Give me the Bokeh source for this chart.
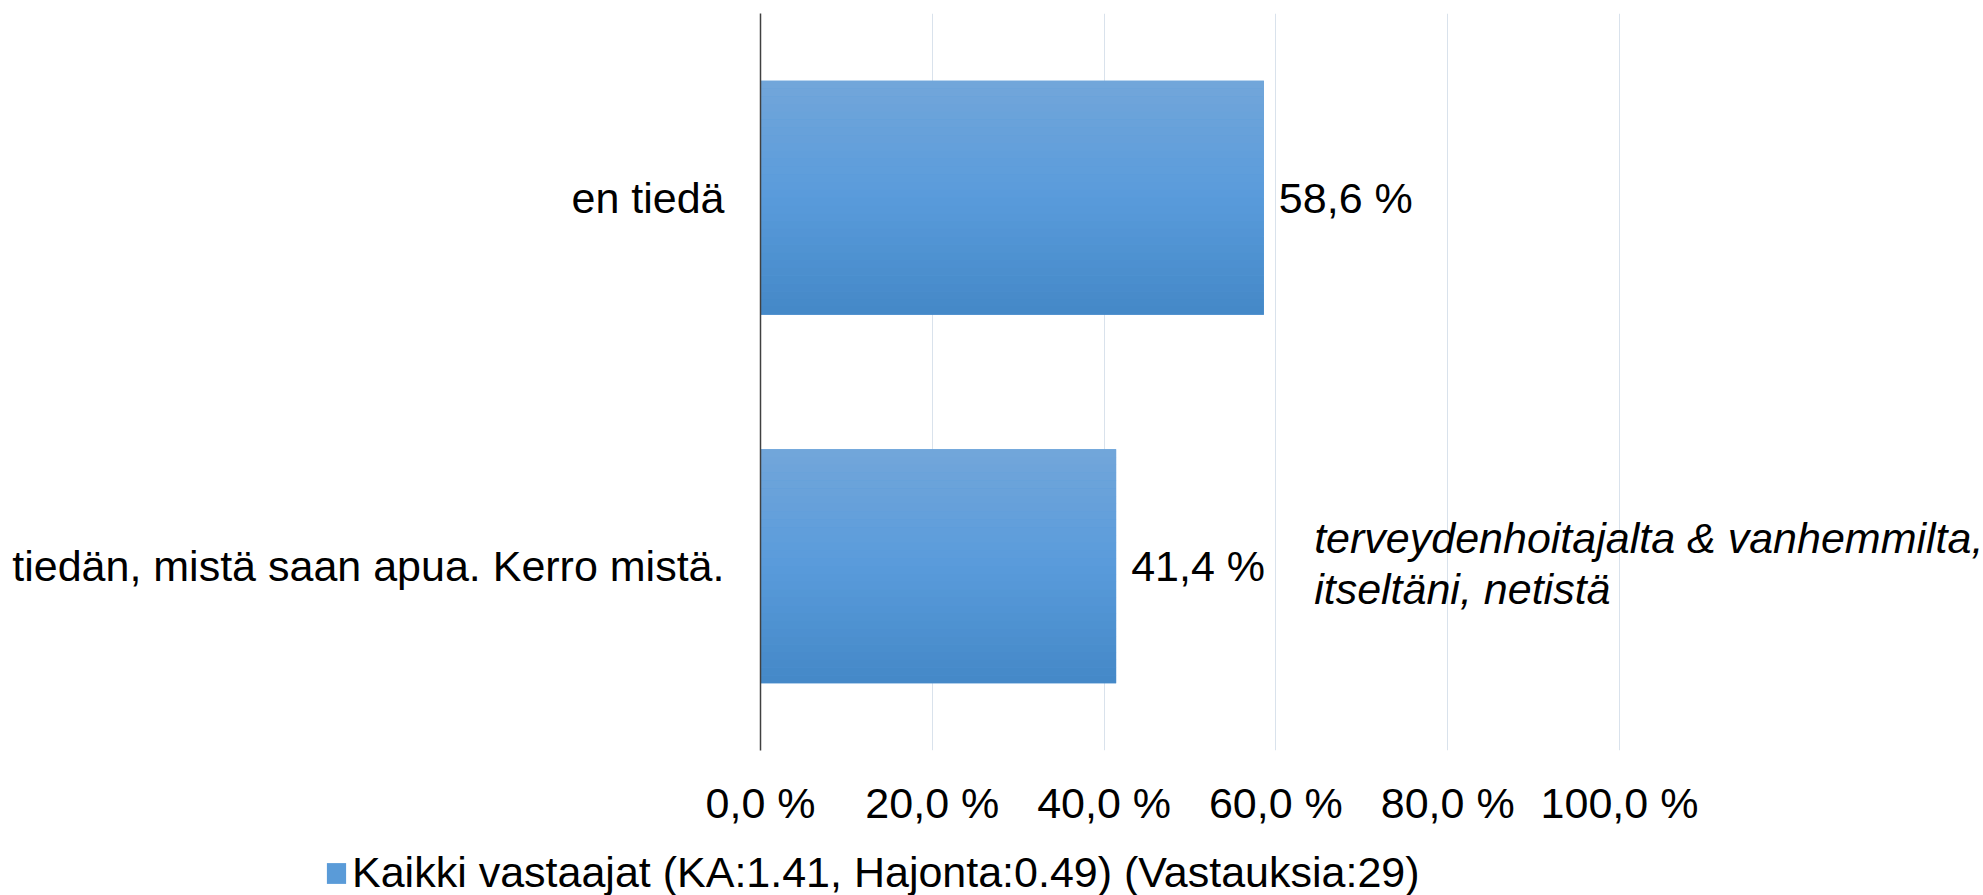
from bokeh.plotting import figure
from bokeh.layouts import column
from bokeh.models import Range1d, FactorRange, FixedTicker, ColumnDataSource, Legend, LegendItem
from bokeh.transform import dodge
from bokeh.core.properties import value
from bokeh.embed import file_html
from bokeh.resources import INLINE

# ---- data ----
categories = ["en tiedä", "tiedän, mistä saan apua. Kerro mistä."]
percent = [58.6, 41.4]
bar_labels = ["58,6 %", "41,4 %"]
tick_values = [0, 20, 40, 60, 80, 100]
tick_labels = ["0,0 %", "20,0 %", "40,0 %", "60,0 %", "80,0 %", "100,0 %"]
series_name = "Kaikki vastaajat (KA:1.41, Hajonta:0.49) (Vastauksia:29)"
open_answer_category = ["tiedän, mistä saan apua. Kerro mistä."]
open_answer_text = ["terveydenhoitajalta & vanhemmilta,\nitseltäni, netistä"]

FONT = "Liberation Sans"
FS = "43px"

src = ColumnDataSource(dict(cat=categories, val=percent, lab=bar_labels))

W, H = 1983, 838
LH = 57
left, top = 760, 13
bottom = H - 750
frame_w = W - left
px_per_pct = 8.59

p = figure(width=W, height=H, output_backend="svg", toolbar_location=None,
           y_range=FactorRange(factors=categories[::-1], range_padding=0),
           x_range=Range1d(0, frame_w / px_per_pct),
           min_border_left=left, min_border_top=top, min_border_bottom=bottom,
           min_border_right=0)
p.frame_align = False
p.outline_line_color = None
p.background_fill_color = "white"
p.border_fill_color = "white"

# gradient bar built of thin strips
bar_h = 0.635
stops = [(0.0, (0x72, 0xA6, 0xDA)), (0.5, (0x59, 0x9B, 0xDB)), (1.0, (0x44, 0x88, 0xC7))]

def col(t):
    for (t0, c0), (t1, c1) in zip(stops[:-1], stops[1:]):
        if t0 <= t <= t1:
            f = (t - t0) / (t1 - t0)
            c = [round(a + (b - a) * f) for a, b in zip(c0, c1)]
            return "#%02x%02x%02x" % tuple(c)
    return "#5b9bd5"

base = p.hbar(y="cat", right="val", left=0, height=bar_h, source=src,
              fill_color=col(0.5), line_color=None)
N = 30
sh = bar_h / N
for i in range(N):
    off = bar_h / 2 - (i + 0.5) * sh
    p.hbar(y=dodge("cat", off, range=p.y_range), right="val", left=0, height=sh * 1.02,
           source=src, fill_color=col((i + 0.5) / N), line_color=None)

# data labels
p.text(x="val", y="cat", text="lab", source=src, x_offset=15,
       text_font=value(FONT), text_font_size=FS, text_color="black",
       text_align="left", text_baseline="middle")

# open-answer note
p.text(x=[percent[1]], y=open_answer_category, text=open_answer_text, x_offset=198, y_offset=-3,
       text_font=value(FONT), text_font_size=FS, text_font_style="italic", text_color="black",
       text_align="left", text_baseline="middle", text_line_height=1.06)

# axes
p.xaxis.ticker = FixedTicker(ticks=tick_values)
p.xaxis.major_label_overrides = {t: l for t, l in zip(tick_values, tick_labels)}
p.xaxis.axis_line_color = None
p.xaxis.major_tick_line_color = None
p.xaxis.minor_tick_line_color = None
p.xaxis.major_label_text_font = FONT
p.xaxis.major_label_text_font_size = FS
p.xaxis.major_label_text_color = "black"
p.xaxis.major_label_standoff = 22

p.yaxis.axis_line_color = "#404040"
p.yaxis.axis_line_width = 1.5
p.yaxis.major_tick_line_color = None
p.yaxis.minor_tick_line_color = None
p.yaxis.major_tick_out = 0
p.yaxis.major_label_text_font = FONT
p.yaxis.major_label_text_font_size = FS
p.yaxis.major_label_text_color = "black"
p.yaxis.major_label_standoff = 36

p.xgrid.grid_line_color = "#D9E2EC"
p.xgrid.grid_line_width = 1
p.ygrid.grid_line_color = None

# legend strip below the chart
pl = figure(width=W, height=LH, output_backend="svg", toolbar_location=None,
            min_border=0, x_axis_type=None, y_axis_type=None,
            x_range=Range1d(0, 1), y_range=Range1d(0, 1))
pl.frame_align = False
pl.outline_line_color = None
pl.grid.visible = False
swatch_src = ColumnDataSource(dict(y=[-5], right=[-5], left=[-5]))
swatch = pl.hbar(y="y", right="right", left="left", height=0.01, source=swatch_src,
                 fill_color="#5A9BD8", line_color=None)
legend = Legend(items=[LegendItem(label=series_name, renderers=[swatch], index=0)],
                location=(324, -2), orientation="horizontal",
                padding=0, margin=0, border_line_color=None, background_fill_alpha=0,
                glyph_width=24, glyph_height=26, label_standoff=4,
                label_text_font=FONT, label_text_font_size=FS, label_text_color="black")
pl.add_layout(legend)

open("out.html", "w").write(file_html(column(p, pl, spacing=0), INLINE))
